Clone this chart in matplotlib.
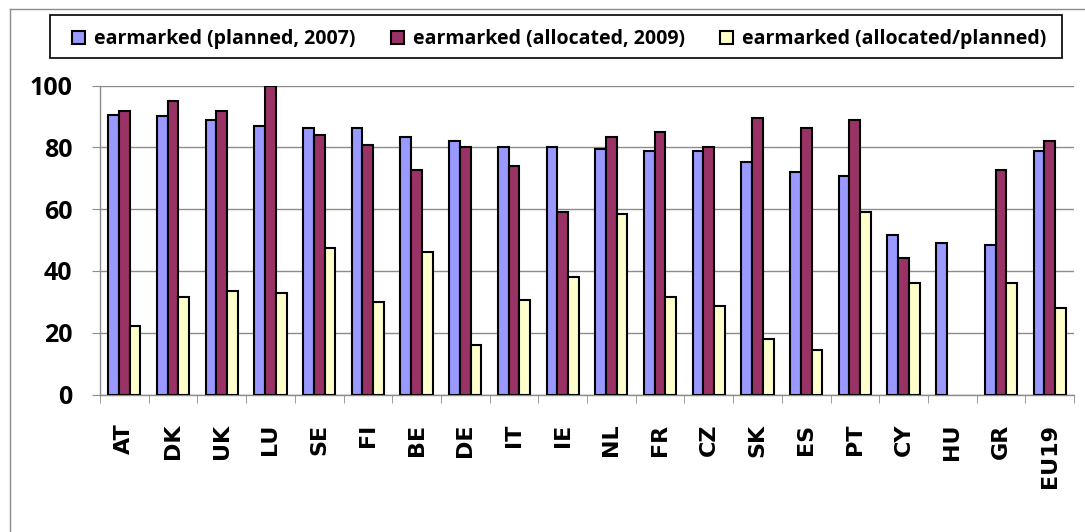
import numpy as np
import matplotlib
matplotlib.use("Agg")
import matplotlib.pyplot as plt
from matplotlib.lines import Line2D
from matplotlib.patches import Rectangle

countries = ["AT", "DK", "UK", "LU", "SE", "FI", "BE", "DE", "IT", "IE",
             "NL", "FR", "CZ", "SK", "ES", "PT", "CY", "HU", "GR", "EU19"]

planned_2007 = [90.6, 90.1, 88.8, 87.0, 86.3, 86.3, 83.3, 82.0, 80.2, 80.2,
                79.5, 78.9, 78.9, 75.1, 72.1, 70.8, 51.6, 49.1, 48.4, 78.9]
allocated_2009 = [91.8, 95.0, 91.8, 100.0, 83.9, 80.7, 72.7, 80.2, 73.9, 59.0,
                  83.3, 85.0, 80.2, 89.5, 86.3, 88.8, 44.1, np.nan, 72.7, 82.0]
alloc_planned = [22.3, 31.6, 33.5, 32.8, 47.3, 29.8, 46.0, 16.1, 30.5, 37.9,
                 58.3, 31.6, 28.5, 18.0, 14.3, 59.0, 36.0, np.nan, 36.0, 27.9]

series_names = ["earmarked (planned, 2007)",
                "earmarked (allocated, 2009)",
                "earmarked (allocated/planned)"]
colors = ["#9999FF", "#993366", "#FFFFCC"]

W, H = 1085, 532
fig = plt.figure(figsize=(W / 100, H / 100), dpi=100)
ax = fig.add_axes([100 / W, 1 - 394.5 / H, 974 / W, 309 / H])

x = np.arange(len(countries))
w = 0.22
for k, vals in enumerate([planned_2007, allocated_2009, alloc_planned]):
    ax.bar(x + (k - 1) * w, vals, width=w, color=colors[k], edgecolor="black",
           linewidth=1.5, label=series_names[k], zorder=3)

ax.set_xlim(-0.5, len(countries) - 0.5)
ax.set_ylim(0, 100)
ax.set_yticks([0, 20, 40, 60, 80, 100])
ax.yaxis.grid(True, color="#8c8c8c", linewidth=1, zorder=0)

for side in ["top", "right"]:
    ax.spines[side].set_visible(False)
for side in ["left", "bottom"]:
    ax.spines[side].set_color("#8c8c8c")
    ax.spines[side].set_linewidth(1)

ax.set_xticks(x)
ax.set_xticklabels(countries, rotation=90, fontfamily="DejaVu Sans",
                   fontweight="bold", fontsize=16)
ax.set_xticks(np.arange(-0.5, len(countries)), minor=True)
ax.tick_params(axis="x", which="major", length=0, pad=21)
ax.tick_params(axis="x", which="minor", length=6, color="#8c8c8c")
ax.tick_params(axis="y", length=6, color="#8c8c8c", pad=14)
for lab in ax.get_yticklabels():
    lab.set_fontfamily("Open Sans")
    lab.set_fontweight("bold")
    lab.set_fontsize(18)

# legend content spread across the box, box drawn separately
leg = fig.legend(loc="center",
                 bbox_to_anchor=(72 / W, 1 - 54 / H, 974 / W, 30 / H),
                 ncol=3, mode="expand", frameon=False,
                 handlelength=0.68, handleheight=0.68,
                 handletextpad=0.45, borderaxespad=0, borderpad=0,
                 prop={"family": "Open Sans", "weight": "bold", "size": 14})
for h in leg.legend_handles:
    h.set_linewidth(1.5)
fig.add_artist(Rectangle((50 / W, 1 - 58 / H), 1012 / W, 43.5 / H,
                         transform=fig.transFigure, fill=False,
                         edgecolor="black", linewidth=1.2))

# outer chart border (only top and left are inside the picture)
fig.add_artist(Line2D([9.5 / W, 1], [1 - 8.5 / H] * 2, color="#8c8c8c", lw=1))
fig.add_artist(Line2D([9.5 / W] * 2, [0, 1 - 8.5 / H], color="#8c8c8c", lw=1))

fig.savefig("out.png", dpi=100)
